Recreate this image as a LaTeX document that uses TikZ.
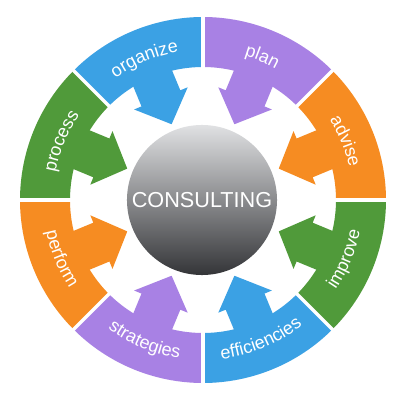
\documentclass[tikz,border=0pt]{standalone}
\usepackage{fontspec}
\setmainfont{Liberation Sans}
\usetikzlibrary{decorations.text}
\definecolor{segblue}{RGB}{59,161,228}
\definecolor{segpurple}{RGB}{168,129,228}
\definecolor{segorange}{RGB}{246,140,34}
\definecolor{seggreen}{RGB}{80,154,58}
\definecolor{coretop}{RGB}{224,225,227}
\definecolor{coremid}{RGB}{150,151,153}
\definecolor{corebot}{RGB}{52,53,56}
\newcommand\segfont{\color{white}\fontsize{12.8pt}{12.8pt}\selectfont}

\begin{document}
\begin{tikzpicture}[x=0.025cm,y=0.025cm,
  gap/.style={white,line width=0.08cm},
  core/.style={circle,minimum size=3.75cm,inner sep=0pt,text=white,
    top color=coretop,middle color=coremid,bottom color=corebot,
    font=\fontsize{15.4pt}{15.4pt}\selectfont}]
\useasboundingbox[fill=white] (-203,-200) rectangle (197,200);
\foreach \a/\c/\w/\r/\s in {112.5/segblue/organize/150/-1,67.5/segpurple/plan/150/-1,
  22.5/segorange/advise/150/-1,-22.5/seggreen/improve/160/1,-67.5/segblue/efficiencies/160/1,
  -112.5/segpurple/strategies/160/1,-157.5/segorange/perform/160/1,157.5/seggreen/process/150/-1}
{
  \begin{scope}[rotate=\a]
    \fill[\c] (-22.5:133) arc[start angle=-22.5,end angle=22.5,radius=133]
      -- (22.5:183) arc[start angle=22.5,end angle=-22.5,radius=183] -- cycle;
    \fill[\c] (140,-21) -- (110,-21) -- (110,-29) -- (82,0) -- (110,29) -- (110,21) -- (140,21) -- cycle;
  \end{scope}
  \path[decorate,decoration={text along path,text/.expanded={|\noexpand\segfont|\w},text align=center}]
    (\a-25*\s:\r) arc[start angle=\a-25*\s,end angle=\a+25*\s,radius=\r];
}
\foreach \b in {0,45,...,315}
  \draw[gap] (\b:128) -- (\b:188);
\node[core] (consulting) at (-1,0) {CONSULTING};
\end{tikzpicture}
\end{document}
